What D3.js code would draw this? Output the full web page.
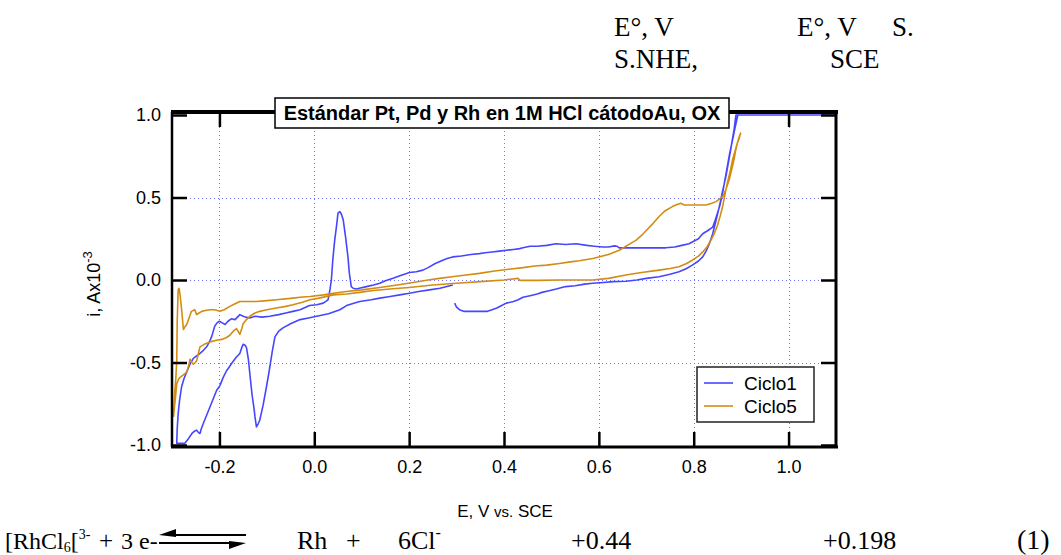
<!DOCTYPE html>
<html>
<head>
<meta charset="utf-8">
<script src="https://cdn.jsdelivr.net/npm/d3@7"></script>
<style>
  body { margin: 0; background: #fff; }
  svg { display: block; }
</style>
</head>
<body>
<svg id="chart" width="1061" height="555"></svg>
<script>
// Ciclo1 (blue) [E, i] in V and A x10^-3, in scan order
var CICLO1 = [
  [0.296,-0.14],[0.300,-0.165],[0.306,-0.18],[0.315,-0.19],[0.33,-0.19],[0.35,-0.19],[0.365,-0.19],
  [0.375,-0.18],[0.385,-0.17],[0.395,-0.155],[0.405,-0.14],[0.42,-0.13],[0.43,-0.12],[0.44,-0.105],
  [0.455,-0.095],[0.47,-0.085],[0.48,-0.075],[0.495,-0.065],[0.51,-0.055],[0.53,-0.04],[0.55,-0.035],
  [0.57,-0.025],[0.587,-0.02],[0.61,-0.015],[0.63,-0.01],[0.657,-0.008],[0.68,0.0],[0.70,0.01],
  [0.727,0.02],[0.75,0.035],[0.769,0.05],[0.785,0.07],[0.797,0.09],[0.81,0.115],[0.819,0.14],
  [0.827,0.18],[0.833,0.22],[0.84,0.28],[0.847,0.36],[0.854,0.445],[0.861,0.54],[0.868,0.63],
  [0.873,0.71],[0.878,0.79],[0.882,0.86],[0.885,0.91],[0.889,1.0],[1.1,1.0],[0.893,1.0],
  [0.887,0.92],[0.882,0.85],[0.876,0.77],[0.871,0.69],[0.866,0.61],[0.861,0.53],[0.855,0.45],
  [0.85,0.405],[0.845,0.36],[0.84,0.32],[0.83,0.30],[0.819,0.28],[0.81,0.25],[0.80,0.235],
  [0.79,0.22],[0.775,0.21],[0.76,0.20],[0.741,0.195],[0.72,0.195],[0.70,0.195],[0.68,0.195],
  [0.66,0.195],[0.643,0.195],[0.638,0.205],[0.633,0.207],[0.62,0.20],[0.608,0.20],[0.59,0.205],
  [0.575,0.21],[0.552,0.22],[0.53,0.215],[0.51,0.22],[0.49,0.21],[0.47,0.205],[0.455,0.205],
  [0.44,0.195],[0.433,0.19],[0.42,0.185],[0.405,0.18],[0.39,0.175],[0.375,0.17],[0.36,0.165],
  [0.348,0.16],[0.33,0.155],[0.31,0.145],[0.292,0.14],[0.28,0.13],[0.271,0.12],[0.255,0.10],
  [0.24,0.075],[0.229,0.06],[0.215,0.05],[0.201,0.045],[0.185,0.03],[0.166,0.01],[0.15,-0.005],
  [0.138,-0.02],[0.125,-0.03],[0.11,-0.04],[0.095,-0.05],[0.089,-0.055],[0.082,-0.05],[0.078,-0.04],
  [0.074,0.04],[0.071,0.14],[0.066,0.26],[0.061,0.365],[0.057,0.40],[0.054,0.415],[0.05,0.405],
  [0.047,0.33],[0.043,0.24],[0.039,0.12],[0.036,0.0],[0.033,-0.06],[0.029,-0.12],[0.019,-0.14],
  [0.005,-0.15],[-0.01,-0.155],[-0.03,-0.18],[-0.045,-0.19],[-0.06,-0.20],[-0.075,-0.21],
  [-0.094,-0.22],[-0.11,-0.225],[-0.125,-0.22],[-0.136,-0.23],[-0.145,-0.225],[-0.157,-0.21],
  [-0.162,-0.225],[-0.167,-0.24],[-0.175,-0.235],[-0.182,-0.25],[-0.188,-0.27],[-0.194,-0.26],
  [-0.2,-0.25],[-0.205,-0.26],[-0.21,-0.28],[-0.216,-0.34],[-0.222,-0.38],[-0.227,-0.405],
  [-0.235,-0.43],[-0.241,-0.445],[-0.248,-0.46],[-0.255,-0.475],[-0.262,-0.51],[-0.269,-0.557],
  [-0.275,-0.60],[-0.28,-0.65],[-0.284,-0.73],[-0.287,-0.81],[-0.289,-0.9],[-0.29,-0.99],
  [-0.282,-0.99],[-0.273,-0.99],[-0.265,-0.96],[-0.258,-0.93],[-0.252,-0.915],[-0.248,-0.91],
  [-0.244,-0.925],[-0.241,-0.93],[-0.238,-0.90],[-0.234,-0.87],[-0.227,-0.82],[-0.22,-0.77],
  [-0.213,-0.72],[-0.206,-0.67],[-0.199,-0.64],[-0.192,-0.59],[-0.185,-0.55],[-0.18,-0.53],
  [-0.174,-0.505],[-0.165,-0.47],[-0.157,-0.445],[-0.153,-0.41],[-0.15,-0.39],[-0.146,-0.395],
  [-0.143,-0.41],[-0.139,-0.48],[-0.136,-0.565],[-0.131,-0.70],[-0.127,-0.78],[-0.125,-0.83],
  [-0.122,-0.89],[-0.118,-0.87],[-0.115,-0.85],[-0.108,-0.76],[-0.101,-0.65],[-0.095,-0.55],
  [-0.089,-0.44],[-0.083,-0.345],[-0.075,-0.31],[-0.066,-0.29],[-0.05,-0.265],[-0.03,-0.24],
  [-0.012,-0.23],[0.005,-0.22],[0.03,-0.205],[0.054,-0.18],[0.068,-0.155],[0.085,-0.14],
  [0.096,-0.13],[0.12,-0.12],[0.138,-0.11],[0.16,-0.10],[0.18,-0.09],[0.201,-0.08],[0.22,-0.07],
  [0.243,-0.06],[0.265,-0.05],[0.292,-0.03]
];

// Ciclo5 (orange)
var CICLO5 = [
  [-0.297,-0.83],[-0.293,-0.72],[-0.29,-0.63],[-0.286,-0.60],[-0.283,-0.59],[-0.276,-0.575],
  [-0.269,-0.56],[-0.265,-0.52],[-0.262,-0.48],[-0.258,-0.50],[-0.255,-0.51],[-0.251,-0.50],
  [-0.248,-0.49],[-0.244,-0.44],[-0.241,-0.405],[-0.232,-0.39],[-0.22,-0.375],[-0.206,-0.365],
  [-0.195,-0.36],[-0.186,-0.35],[-0.178,-0.335],[-0.171,-0.31],[-0.164,-0.295],[-0.16,-0.315],
  [-0.157,-0.33],[-0.153,-0.295],[-0.15,-0.265],[-0.143,-0.24],[-0.136,-0.22],[-0.125,-0.20],
  [-0.115,-0.19],[-0.1,-0.18],[-0.08,-0.17],[-0.06,-0.16],[-0.045,-0.15],[-0.025,-0.135],
  [-0.009,-0.12],[0.01,-0.11],[0.04,-0.09],[0.068,-0.085],[0.096,-0.075],[0.12,-0.065],
  [0.159,-0.055],[0.2,-0.045],[0.25,-0.03],[0.3,-0.02],[0.35,-0.01],[0.4,0.0],[0.43,0.01],
  [0.433,-0.002],[0.47,-0.002],[0.517,0.0],[0.559,0.0],[0.587,0.0],[0.62,0.01],[0.657,0.03],
  [0.69,0.045],[0.727,0.06],[0.75,0.07],[0.769,0.08],[0.785,0.10],[0.797,0.12],[0.81,0.145],
  [0.819,0.17],[0.828,0.2],[0.836,0.24],[0.843,0.28],[0.85,0.33],[0.856,0.39],[0.861,0.445],
  [0.866,0.52],[0.871,0.59],[0.877,0.66],[0.882,0.73],[0.887,0.78],[0.892,0.83],[0.896,0.86],
  [0.899,0.89],
  [0.895,0.86],[0.892,0.83],[0.888,0.78],[0.885,0.73],[0.88,0.67],[0.875,0.61],[0.868,0.55],
  [0.861,0.505],[0.854,0.49],[0.847,0.475],[0.838,0.465],[0.826,0.455],[0.81,0.455],[0.795,0.455],
  [0.78,0.455],[0.776,0.46],[0.773,0.465],[0.765,0.458],[0.755,0.445],[0.74,0.42],[0.727,0.385],
  [0.715,0.345],[0.70,0.30],[0.69,0.27],[0.678,0.24],[0.66,0.21],[0.643,0.18],[0.62,0.155],
  [0.6,0.14],[0.587,0.13],[0.559,0.117],[0.54,0.11],[0.517,0.10],[0.49,0.09],[0.465,0.085],
  [0.44,0.075],[0.41,0.065],[0.38,0.055],[0.348,0.04],[0.32,0.03],[0.29,0.02],[0.264,0.01],
  [0.24,0.0],[0.208,-0.015],[0.175,-0.03],[0.138,-0.045],[0.1,-0.06],[0.068,-0.07],[0.04,-0.08],
  [0.02,-0.09],[-0.009,-0.10],[-0.03,-0.105],[-0.045,-0.11],[-0.08,-0.12],[-0.1,-0.125],
  [-0.122,-0.13],[-0.14,-0.13],[-0.157,-0.13],[-0.168,-0.145],[-0.178,-0.16],[-0.19,-0.18],
  [-0.199,-0.19],[-0.21,-0.18],[-0.22,-0.18],[-0.23,-0.185],[-0.237,-0.19],[-0.243,-0.2],
  [-0.248,-0.21],[-0.252,-0.18],[-0.259,-0.19],[-0.264,-0.23],[-0.269,-0.27],[-0.273,-0.285],
  [-0.276,-0.30],[-0.279,-0.2],[-0.283,-0.09],[-0.285,-0.05],[-0.287,-0.06],[-0.289,-0.25],
  [-0.29,-0.49],[-0.292,-0.6],[-0.294,-0.67],[-0.297,-0.83]
];

var X_TICKS = [-0.2, 0.0, 0.2, 0.4, 0.6, 0.8, 1.0];
var Y_TICKS = [-1.0, -0.5, 0.0, 0.5, 1.0];
var Y_GRID = [-0.5, 0.0, 0.5];
var SERIES_NAMES = ["Ciclo1", "Ciclo5"];
var SERIES_COLORS = ["#4646ff", "#d38c12"];
var TITLE = "Estándar Pt, Pd y Rh en 1M HCl cátodoAu, OX";

var SANS = "'Liberation Sans', Arial, sans-serif";
var SERIF = "'Liberation Serif', 'Times New Roman', serif";

var LEFT = 172, RIGHT = 836, TOP = 112, BOTTOM = 447;

var svg = d3.select("#chart");

var x = d3.scaleLinear().domain([-0.3, 1.1]).range([LEFT, RIGHT]);
var y = d3.scaleLinear().domain([-1, 1]).range([445, 115]);

// grid
var grid = svg.append("g").attr("class", "grid")
  .attr("stroke", "#6f6fff").attr("stroke-width", 1).attr("stroke-dasharray", "1,3");
grid.selectAll(".gx").data(X_TICKS).enter().append("line")
  .attr("x1", function(d) { return Math.round(x(d)) + 0.5; })
  .attr("x2", function(d) { return Math.round(x(d)) + 0.5; })
  .attr("y1", TOP + 3).attr("y2", BOTTOM - 2);
grid.selectAll(".gy").data(Y_GRID).enter().append("line")
  .attr("y1", function(d) { return Math.round(y(d)) + 0.5; })
  .attr("y2", function(d) { return Math.round(y(d)) + 0.5; })
  .attr("x1", LEFT + 2).attr("x2", RIGHT - 2);

// data lines
var line = d3.line().x(function(d) { return x(d[0]); }).y(function(d) { return y(d[1]); });
[CICLO1, CICLO5].forEach(function(data, k) {
  svg.append("path")
    .datum(data)
    .attr("d", line)
    .attr("fill", "none")
    .attr("stroke", SERIES_COLORS[k])
    .attr("stroke-width", 1.6)
    .attr("stroke-linejoin", "round");
});

// axes, ticks pointing inward
function styleAxis(g) {
  g.select(".domain").remove();
  g.selectAll(".tick line").attr("stroke", "#000").attr("stroke-width", 2.5);
  g.selectAll(".tick text").attr("fill", "#000").style("font-family", SANS).style("font-size", "18px");
}
var fmt = function(d) { return d.toFixed(1); };

svg.append("g").attr("transform", "translate(0," + BOTTOM + ")")
  .call(d3.axisBottom(x).tickValues(X_TICKS).tickSize(-15).tickPadding(13).tickFormat(fmt))
  .call(styleAxis);
svg.append("g").attr("transform", "translate(0," + TOP + ")")
  .call(d3.axisTop(x).tickValues(X_TICKS).tickSize(-15).tickFormat(""))
  .call(styleAxis);
svg.append("g").attr("transform", "translate(" + LEFT + ",0)")
  .call(d3.axisLeft(y).tickValues(Y_TICKS).tickSize(-15).tickPadding(11).tickFormat(fmt))
  .call(styleAxis);
svg.append("g").attr("transform", "translate(" + RIGHT + ",0)")
  .call(d3.axisRight(y).tickValues(Y_TICKS).tickSize(-15).tickFormat(""))
  .call(styleAxis);

// frame
var frame = svg.append("g").attr("stroke", "#000");
frame.append("line").attr("x1", LEFT - 1).attr("x2", RIGHT + 2).attr("y1", TOP).attr("y2", TOP).attr("stroke-width", 4);
frame.append("line").attr("x1", LEFT - 1).attr("x2", RIGHT + 2).attr("y1", BOTTOM).attr("y2", BOTTOM).attr("stroke-width", 3);
frame.append("line").attr("x1", LEFT).attr("x2", LEFT).attr("y1", TOP).attr("y2", BOTTOM).attr("stroke-width", 2.5);
frame.append("line").attr("x1", RIGHT).attr("x2", RIGHT).attr("y1", TOP).attr("y2", BOTTOM).attr("stroke-width", 3);

// title box
var tg = svg.append("g");
tg.append("rect").attr("x", 275).attr("y", 98).attr("width", 454).attr("height", 30)
  .attr("fill", "#fff").attr("stroke", "#000").attr("stroke-width", 1.5);
tg.append("text").attr("x", 502).attr("y", 120).attr("text-anchor", "middle")
  .style("font-family", SANS).style("font-weight", "bold").style("font-size", "20px")
  .text(TITLE);

// legend
var lg = svg.append("g");
lg.append("rect").attr("x", 697).attr("y", 367).attr("width", 117).attr("height", 55)
  .attr("fill", "#fff").attr("stroke", "#222").attr("stroke-width", 1.5);
SERIES_NAMES.forEach(function(name, k) {
  var yy = 383 + k * 23;
  lg.append("line").attr("x1", 704).attr("x2", 733).attr("y1", yy).attr("y2", yy)
    .attr("stroke", SERIES_COLORS[k]).attr("stroke-width", 1.6);
  lg.append("text").attr("x", 744).attr("y", yy + 7)
    .style("font-family", SANS).style("font-size", "19px").text(name);
});

// axis labels
var xl = svg.append("text").attr("x", 505).attr("y", 517).attr("text-anchor", "middle")
  .style("font-family", SANS).style("font-size", "17px");
xl.append("tspan").text("E, V ");
xl.append("tspan").style("font-size", "15px").text("vs.");
xl.append("tspan").text(" SCE");

var yl = svg.append("text").attr("transform", "translate(100,284) rotate(-90)")
  .attr("text-anchor", "middle").style("font-family", SANS).style("font-size", "18px");
yl.append("tspan").text("i, Ax10");
yl.append("tspan").attr("dy", -8).style("font-size", "13px").text("-3");

// header text (serif)
function serifText(tx, ty, s, size) {
  return svg.append("text").attr("x", tx).attr("y", ty)
    .style("font-family", SERIF).style("font-size", (size || 26) + "px").text(s);
}
serifText(614, 36, "E°, V", 27);
serifText(614, 68, "S.NHE,", 27);
serifText(797, 36, "E°, V", 27);
serifText(892, 36, "S.", 27);
serifText(830, 68, "SCE", 27);

// equation line
var EQ_Y = 549;
var eq1 = svg.append("text").attr("x", 5).attr("y", EQ_Y)
  .style("font-family", SERIF).style("font-size", "24px");
eq1.append("tspan").text("[RhCl");
eq1.append("tspan").attr("dy", 3).style("font-size", "14px").text("6");
eq1.append("tspan").attr("dy", -3).text("[");
eq1.append("tspan").attr("dy", -10).style("font-size", "14px").text("3-");
serifText(99, EQ_Y, "+", 25);
serifText(121, EQ_Y, "3 e-", 24);
serifText(297, EQ_Y, "Rh");
serifText(346, EQ_Y, "+");
var eq2 = svg.append("text").attr("x", 398).attr("y", EQ_Y)
  .style("font-family", SERIF).style("font-size", "26px");
eq2.append("tspan").text("6Cl");
eq2.append("tspan").attr("dy", -11).style("font-size", "16px").text("-");
serifText(571, EQ_Y, "+0.44");
serifText(823, EQ_Y, "+0.198");
serifText(1017, EQ_Y, "(1)", 28);

// equilibrium arrows
var ar = svg.append("g");
ar.append("line").attr("x1", 172).attr("x2", 246).attr("y1", 535).attr("y2", 535).attr("stroke", "#000").attr("stroke-width", 2);
ar.append("path").attr("d", "M159,535 L176,529 L176,537 Z").attr("fill", "#000");
ar.append("line").attr("x1", 159).attr("x2", 232).attr("y1", 543).attr("y2", 543).attr("stroke", "#000").attr("stroke-width", 2);
ar.append("path").attr("d", "M246,543 L229,541 L229,549 Z").attr("fill", "#000");
</script>
</body>
</html>
